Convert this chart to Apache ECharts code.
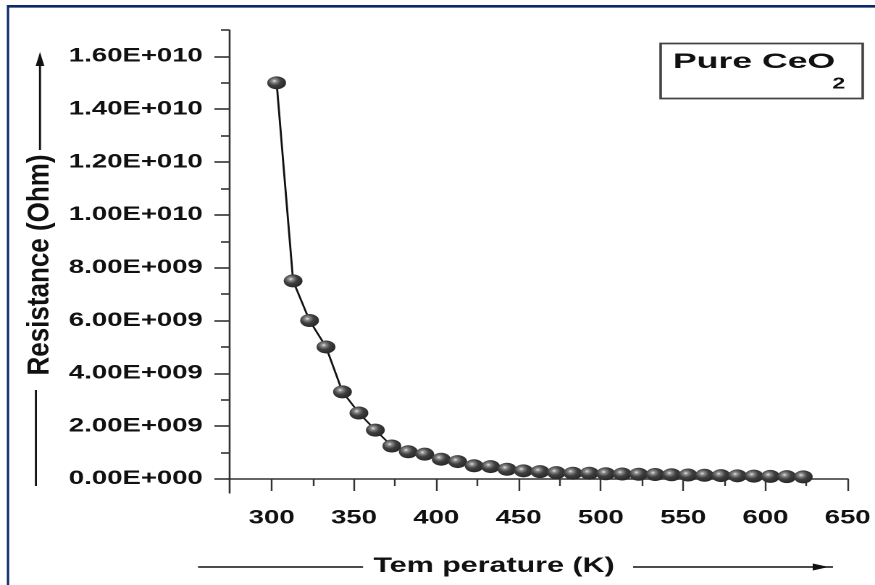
<!DOCTYPE html>
<html>
<head>
<meta charset="utf-8">
<script src="https://cdn.jsdelivr.net/npm/echarts@6/dist/echarts.min.js"></script>
<style>
  html, body { margin: 0; padding: 0; background: #fff; overflow: hidden; }
  /* the original figure is stretched sideways, so draw narrow and stretch the box */
  #chart { width: 604px; height: 585px; transform: scaleX(1.4487); transform-origin: 0 0; }
</style>
</head>
<body>
<div id="chart"></div>
<script>
// data
var temperature = [303, 313, 323, 333, 343, 353, 363, 373, 383, 393, 403, 413, 423, 433, 443, 453, 463,
  473, 483, 493, 503, 513, 523, 533, 543, 553, 563, 573, 583, 593, 603, 613, 623];
var resistance = [15.0e9, 7.5e9, 6.0e9, 5.0e9, 3.3e9, 2.5e9, 1.85e9, 1.25e9, 1.03e9, 0.94e9, 0.75e9, 0.66e9,
  0.50e9, 0.47e9, 0.37e9, 0.31e9, 0.28e9, 0.24e9, 0.22e9, 0.22e9, 0.20e9, 0.19e9, 0.18e9, 0.17e9, 0.16e9,
  0.15e9, 0.14e9, 0.13e9, 0.12e9, 0.11e9, 0.10e9, 0.09e9, 0.08e9];

var xTicks = [300, 350, 400, 450, 500, 550, 600, 650];
var xMinorTicks = [325, 375, 425, 475, 525, 575, 625];
var yTicks = [0, 2e9, 4e9, 6e9, 8e9, 1e10, 1.2e10, 1.4e10, 1.6e10];
var yTickLabels = ['0.00E+000', '2.00E+009', '4.00E+009', '6.00E+009', '8.00E+009',
  '1.00E+010', '1.20E+010', '1.40E+010', '1.60E+010'];
var yMinorTicks = [1e9, 3e9, 5e9, 7e9, 9e9, 1.1e10, 1.3e10, 1.5e10, 1.7e10];

var chart = echarts.init(document.getElementById('chart'), null, { devicePixelRatio: 2 });

var ball = new echarts.graphic.RadialGradient(0.38, 0.36, 0.62, [
  { offset: 0, color: '#e6e6e6' },
  { offset: 0.2, color: '#8c8c8c' },
  { offset: 0.55, color: '#404040' },
  { offset: 1, color: '#2a2a2a' }
]);

var labelFont = { color: '#111', fontFamily: 'Liberation Sans', fontWeight: 'bold', fontSize: 19 };
var titleFont = { fill: '#111', fontFamily: 'Liberation Sans', fontWeight: 'bold' };

var option = {
  backgroundColor: '#ffffff',
  animation: false,
  grid: { left: 158, right: 8.3, top: 30, bottom: 92, containLabel: false },
  xAxis: [{
    type: 'value', min: 274, max: 650,
    axisLine: { lineStyle: { color: '#333', width: 1.6 } },
    axisTick: { length: 12, customValues: xTicks, lineStyle: { color: '#333', width: 1.2 } },
    axisLabel: Object.assign({ margin: 16, customValues: xTicks }, labelFont),
    splitLine: { show: false }
  }, {
    type: 'value', min: 274, max: 650, position: 'bottom',
    axisLine: { show: false },
    axisTick: { length: 7, customValues: xMinorTicks, lineStyle: { color: '#333', width: 1.2 } },
    axisLabel: { show: false },
    splitLine: { show: false }
  }],
  yAxis: [{
    type: 'value', min: -5.3e8, max: 1.7e10,
    axisLine: { show: true, lineStyle: { color: '#333', width: 1.3 } },
    axisTick: { show: true, length: 10, customValues: yTicks, lineStyle: { color: '#333', width: 1.6 } },
    axisLabel: Object.assign({
      margin: 18, customValues: yTicks,
      formatter: function (v) {
        var i = yTicks.indexOf(v);
        return i >= 0 ? yTickLabels[i] : '';
      }
    }, labelFont),
    splitLine: { show: false }
  }, {
    type: 'value', min: -5.3e8, max: 1.7e10, position: 'left',
    axisLine: { show: false },
    axisTick: { show: true, length: 5.5, customValues: yMinorTicks, lineStyle: { color: '#333', width: 1.6 } },
    axisLabel: { show: false },
    splitLine: { show: false }
  }],
  series: [{
    type: 'line',
    xAxisIndex: 0, yAxisIndex: 0,
    data: temperature.map(function (t, i) { return [t, resistance[i]]; }),
    symbol: 'circle', symbolSize: 13,
    showSymbol: true,
    lineStyle: { color: '#111', width: 1.4 },
    itemStyle: { color: ball, borderWidth: 0 }
  }],
  graphic: [
    // page frame
    { type: 'line', shape: { x1: 5.5, y1: 6.3, x2: 604, y2: 6.3 }, style: { stroke: '#0b2a6b', lineWidth: 2.6 } },
    { type: 'line', shape: { x1: 5.5, y1: 5, x2: 5.5, y2: 585 }, style: { stroke: '#0b2a6b', lineWidth: 1.6 } },
    // legend box
    { type: 'rect', shape: { x: 456, y: 43.5, width: 139.5, height: 55 }, style: { fill: '#fff', stroke: '#444', lineWidth: 1.8 } },
    { type: 'text', x: 464.5, y: 62, style: Object.assign({ text: 'Pure CeO', fontSize: 21, verticalAlign: 'middle' }, titleFont), scaleX: 1.17 },
    { type: 'text', x: 574.5, y: 84, style: Object.assign({ text: '2', fontSize: 16, verticalAlign: 'middle' }, titleFont) },
    // y title with arrow lines
    { type: 'text', x: 27.6, y: 265, rotation: Math.PI / 2,
      style: Object.assign({ text: 'Resistance (Ohm)', fontSize: 26, align: 'center', verticalAlign: 'middle' }, titleFont),
      scaleY: 0.8 },
    { type: 'line', shape: { x1: 27.6, y1: 60, x2: 27.6, y2: 150 }, style: { stroke: '#111', lineWidth: 1.4 } },
    { type: 'polygon', shape: { points: [[27.6, 52], [24.6, 66], [30.6, 66]] }, style: { fill: '#111' } },
    { type: 'line', shape: { x1: 24.8, y1: 390, x2: 24.8, y2: 486 }, style: { stroke: '#111', lineWidth: 1.4 } },
    // x title with arrow lines
    { type: 'text', x: 341, y: 566,
      style: Object.assign({ text: 'Tem perature (K)', fontSize: 21, align: 'center', verticalAlign: 'middle' }, titleFont) },
    { type: 'line', shape: { x1: 136.7, y1: 567, x2: 250.6, y2: 567 }, style: { stroke: '#111', lineWidth: 1.4 } },
    { type: 'line', shape: { x1: 437, y1: 567, x2: 575, y2: 567 }, style: { stroke: '#111', lineWidth: 1.4 } },
    { type: 'polygon', shape: { points: [[561, 563.5], [572, 567], [561, 570.5]] }, style: { fill: '#111' } }
  ]
};

chart.setOption(option);
</script>
</body>
</html>
